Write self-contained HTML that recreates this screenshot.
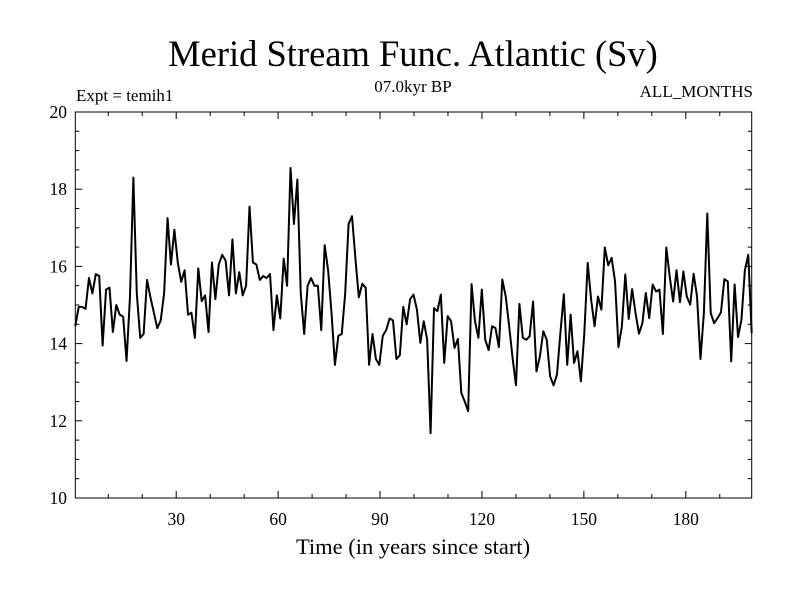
<!DOCTYPE html>
<html><head><meta charset="utf-8"><style>
body{margin:0;background:#fff;}
svg text{font-family:"Liberation Serif",serif;fill:#000;}
</style></head><body>
<svg width="800" height="600">
<text x="413" y="66" font-size="36.5" text-anchor="middle">Merid Stream Func. Atlantic (Sv)</text>
<text x="76" y="101" font-size="17">Expt = temih1</text>
<text x="413" y="92" font-size="17" text-anchor="middle">07.0kyr BP</text>
<text x="753" y="97" font-size="17" text-anchor="end">ALL_MONTHS</text>
<text x="413" y="554" font-size="22.5" text-anchor="middle">Time (in years since start)</text>
<g id="axes"></g>
<path id="line" fill="none" stroke="#000" stroke-width="2" stroke-linejoin="round"/>
<rect x="75.3" y="112" width="676.4" height="386" fill="none" stroke="#000" stroke-width="1"/>
</svg>
<script>
const values = [14.45,14.95,14.95,14.9,15.7,15.3,15.8,15.75,13.95,15.4,15.45,14.3,15.0,14.75,14.7,13.55,15.2,18.3,15.3,14.15,14.25,15.65,15.2,14.8,14.4,14.6,15.3,17.25,16.05,16.95,16.1,15.6,15.9,14.75,14.8,14.15,15.95,15.1,15.25,14.3,16.1,15.15,16.05,16.3,16.15,15.25,16.7,15.3,15.85,15.25,15.5,17.55,16.1,16.05,15.65,15.75,15.7,15.8,14.35,15.25,14.65,16.2,15.5,18.55,17.1,18.25,15.3,14.25,15.5,15.7,15.5,15.5,14.35,16.55,15.9,14.8,13.45,14.2,14.25,15.3,17.1,17.3,16.2,15.2,15.55,15.45,13.45,14.25,13.6,13.45,14.2,14.35,14.65,14.6,13.6,13.7,14.95,14.5,15.15,
15.27,14.88,14.02,14.58,14.10,11.68,14.92,14.84,15.27,13.50,14.71,14.58,13.89,14.12,12.72,12.50,12.25,15.54,14.58,14.15,15.40,14.10,13.83,14.45,14.40,13.91,15.66,15.22,14.45,13.63,12.92,15.03,14.15,14.10,14.19,15.09,13.28,13.67,14.32,14.10,13.15,12.92,13.20,14.27,15.28,13.45,14.75,13.50,13.80,13.02,14.27,16.09,15.14,14.45,15.22,14.88,16.49,16.03,16.22,15.61,13.91,14.45,15.79,14.64,15.41,14.79,14.26,14.53,15.31,14.66,15.53,15.35,15.40,14.25,16.49,15.74,15.09,15.90,15.07,15.87,15.22,15.01,15.81,15.22,13.60,14.79,17.37,14.79,14.53,14.66,14.81,15.67,15.61,13.54,15.53,14.17,14.62,15.90,16.30,14.27];
const xTicks = [30,60,90,120,150,180];
const yTicks = [10,12,14,16,18,20];
const xMin=0.3, xMax=199.4, yMin=10, yMax=20;
const L=75.3,R=751.7,T=112,B=498;
const xs=v=>L+(v-xMin)/(xMax-xMin)*(R-L);
const ys=v=>B-(v-yMin)/(yMax-yMin)*(B-T);
const NS='http://www.w3.org/2000/svg';
const ax=document.getElementById('axes');
function ln(x1,y1,x2,y2){const l=document.createElementNS(NS,'line');l.setAttribute('x1',x1);l.setAttribute('y1',y1);l.setAttribute('x2',x2);l.setAttribute('y2',y2);l.setAttribute('stroke','#000');l.setAttribute('stroke-width','1');


ax.appendChild(l);}
function tx(x,y,s,anchor,name){const t=document.createElementNS(NS,'text');t.setAttribute('x',x);t.setAttribute('y',y);t.setAttribute('font-size','17.5');t.setAttribute('text-anchor',anchor);t.textContent=s;


ax.appendChild(t);}
for(let v=10;v<=190;v+=10){const x=xs(v);const big=v%30===0;const len=big?7:4;ln(x,B,x,B-len);ln(x,T,x,T+len);}
xTicks.forEach(v=>tx(xs(v),525,v,'middle','x-tick-label'));
for(let v=10;v<=20.001;v+=0.5){const y=ys(v);const big=Math.abs(v%2)<0.01;const len=big?7:4;ln(L,y,L+len,y);ln(R,y,R-len,y);}
yTicks.forEach(v=>tx(67,ys(v)+6,v,'end','y-tick-label'));
const n=values.length;
let d='';
values.forEach((v,i)=>{const yr=xMin+i*(xMax-xMin)/(n-1);d+=(i?'L':'M')+xs(yr).toFixed(2)+','+ys(v).toFixed(2);});
document.getElementById('line').setAttribute('d',d);
</script>
</body></html>
